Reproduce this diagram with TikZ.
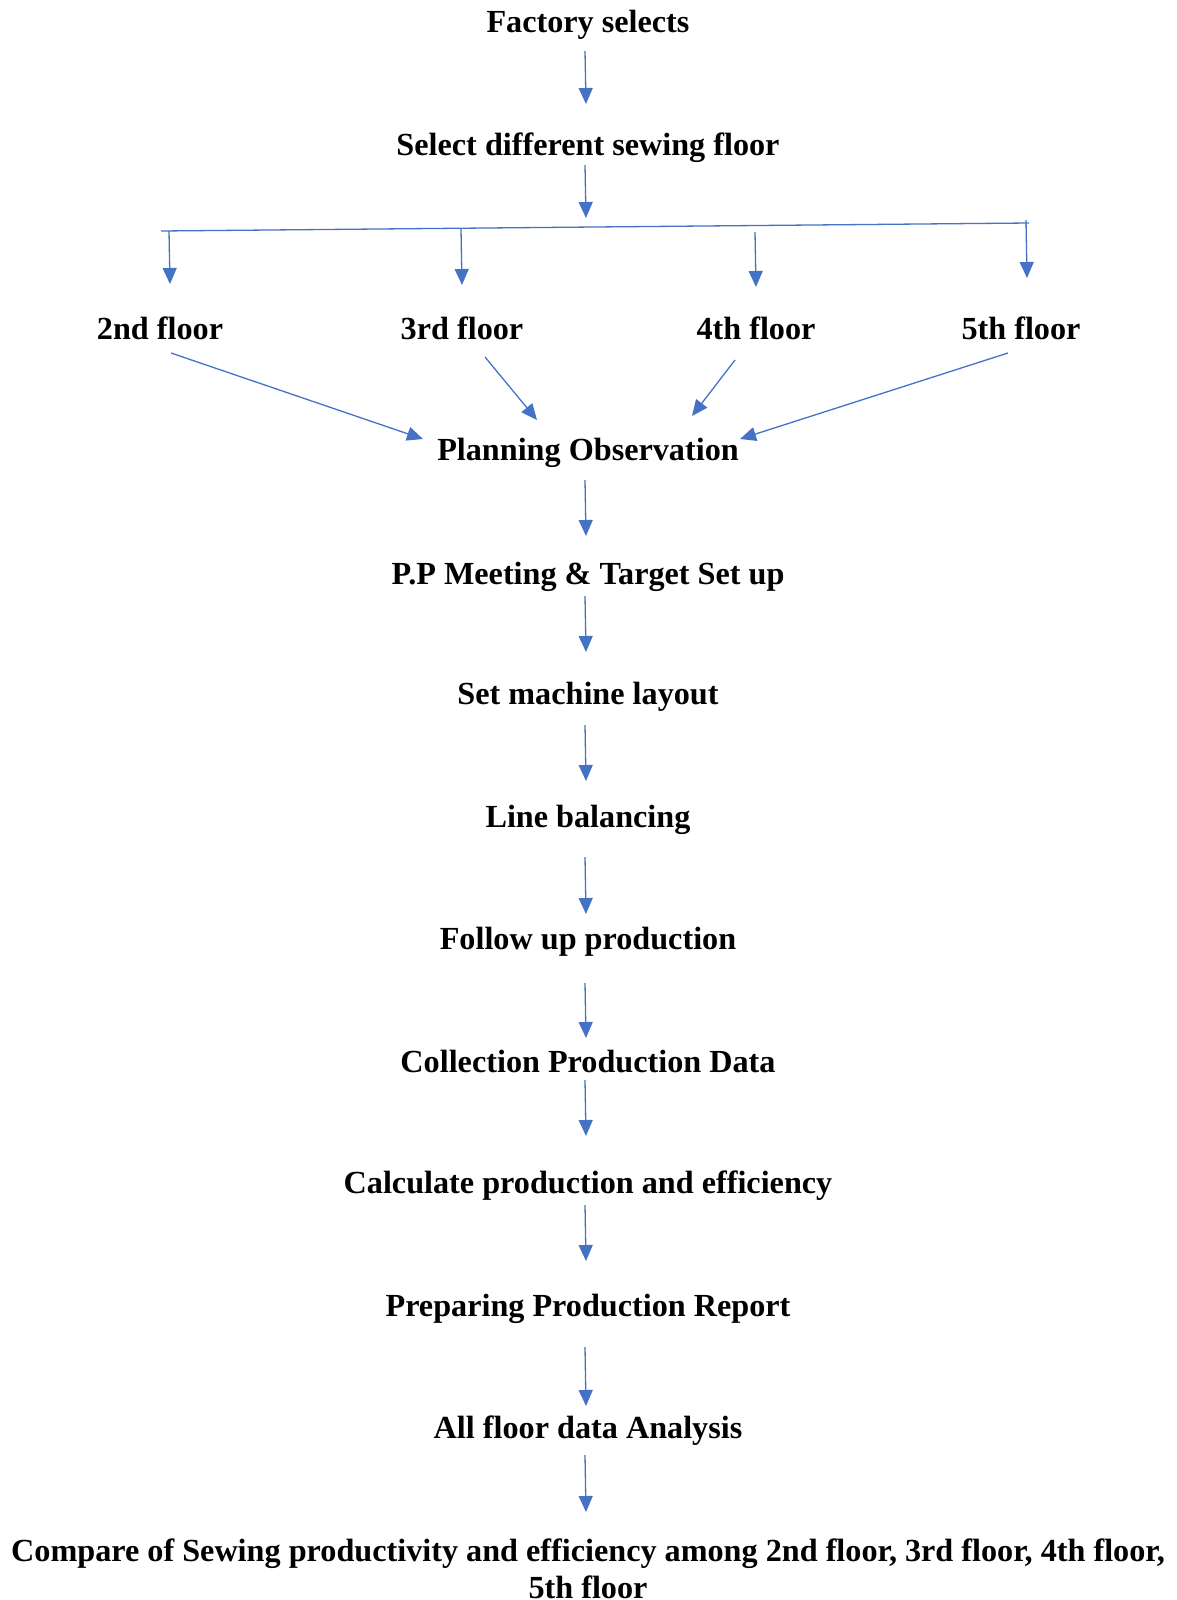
\documentclass[tikz,border=0pt]{standalone}
\usepackage{fontspec}
\setmainfont{Liberation Serif}
\usetikzlibrary{arrows.meta}
\definecolor{arr}{HTML}{4472C4}
\tikzset{
  lbl/.style={font=\bfseries\fontsize{32.2}{38}\selectfont, anchor=base, inner sep=0pt},
  conn/.style={draw=arr, line width=1.3pt, -{Triangle[width=14pt,length=16pt]}},
  barline/.style={draw=arr, line width=1.3pt}
}
\begin{document}
\begin{tikzpicture}[x=1pt,y=-1pt]
\useasboundingbox (0,0) rectangle (1177,1600);
% texts
\node[lbl] (t1) at (588,33) {Factory selects};
\node[lbl] (t2) at (588,155) {Select different sewing floor};
\node[lbl] (f2) at (160,339) {2nd floor};
\node[lbl] (f3) at (462,339) {3rd floor};
\node[lbl] (f4) at (756,339) {4th floor};
\node[lbl] (f5) at (1021,339) {5th floor};
\node[lbl] (t3) at (588,460) {Planning Observation};
\node[lbl] (t4) at (588,584) {P.P Meeting \& Target Set up};
\node[lbl] (t5) at (588,704) {Set machine layout};
\node[lbl] (t6) at (588,827) {Line balancing};
\node[lbl] (t7) at (588,949) {Follow up production};
\node[lbl] (t8) at (588,1072) {Collection Production Data};
\node[lbl] (t9) at (588,1193) {Calculate production and efficiency};
\node[lbl] (t10) at (588,1316) {Preparing Production Report};
\node[lbl] (t11) at (588,1438) {All floor data Analysis};
\node[lbl] (t12) at (588,1561) {Compare of Sewing productivity and efficiency among 2nd floor, 3rd floor, 4th floor,};
\node[lbl] (t13) at (588,1598) {5th floor};
% coordinates
\coordinate (a1s) at (585,51);  \coordinate (a1e) at (586,104);
\coordinate (a2s) at (585,165); \coordinate (a2e) at (586,218);
\coordinate (bl) at (161,231);  \coordinate (br) at (1029,223);
\coordinate (d2s) at (169,231); \coordinate (d2e) at (170,284);
\coordinate (d3s) at (461,229); \coordinate (d3e) at (462,285);
\coordinate (d4s) at (755,232); \coordinate (d4e) at (756,287);
\coordinate (d5s) at (1026,220); \coordinate (d5e) at (1027,278);
\coordinate (g2s) at (171,353); \coordinate (g2e) at (423,439);
\coordinate (g3s) at (485,357); \coordinate (g3e) at (537,420);
\coordinate (g4s) at (735,360); \coordinate (g4e) at (692,416);
\coordinate (g5s) at (1008,353); \coordinate (g5e) at (740,439);
\coordinate (v1s) at (585,480);  \coordinate (v1e) at (586,536);
\coordinate (v2s) at (585,596);  \coordinate (v2e) at (586,652);
\coordinate (v3s) at (585,725);  \coordinate (v3e) at (586,781);
\coordinate (v4s) at (585,857);  \coordinate (v4e) at (586,914);
\coordinate (v5s) at (585,983);  \coordinate (v5e) at (586,1038);
\coordinate (v6s) at (585,1080); \coordinate (v6e) at (586,1136);
\coordinate (v7s) at (585,1205); \coordinate (v7e) at (586,1261);
\coordinate (v8s) at (585,1347); \coordinate (v8e) at (586,1406);
\coordinate (v9s) at (585,1455); \coordinate (v9e) at (586,1512);
% connectors
\draw[conn] (a1s) -- (a1e);
\draw[conn] (a2s) -- (a2e);
\draw[barline] (bl) -- (br);
\draw[conn] (d2s) -- (d2e);
\draw[conn] (d3s) -- (d3e);
\draw[conn] (d4s) -- (d4e);
\draw[conn] (d5s) -- (d5e);
\draw[conn] (g2s) -- (g2e);
\draw[conn] (g3s) -- (g3e);
\draw[conn] (g4s) -- (g4e);
\draw[conn] (g5s) -- (g5e);
\draw[conn] (v1s) -- (v1e);
\draw[conn] (v2s) -- (v2e);
\draw[conn] (v3s) -- (v3e);
\draw[conn] (v4s) -- (v4e);
\draw[conn] (v5s) -- (v5e);
\draw[conn] (v6s) -- (v6e);
\draw[conn] (v7s) -- (v7e);
\draw[conn] (v8s) -- (v8e);
\draw[conn] (v9s) -- (v9e);
\end{tikzpicture}
\end{document}
